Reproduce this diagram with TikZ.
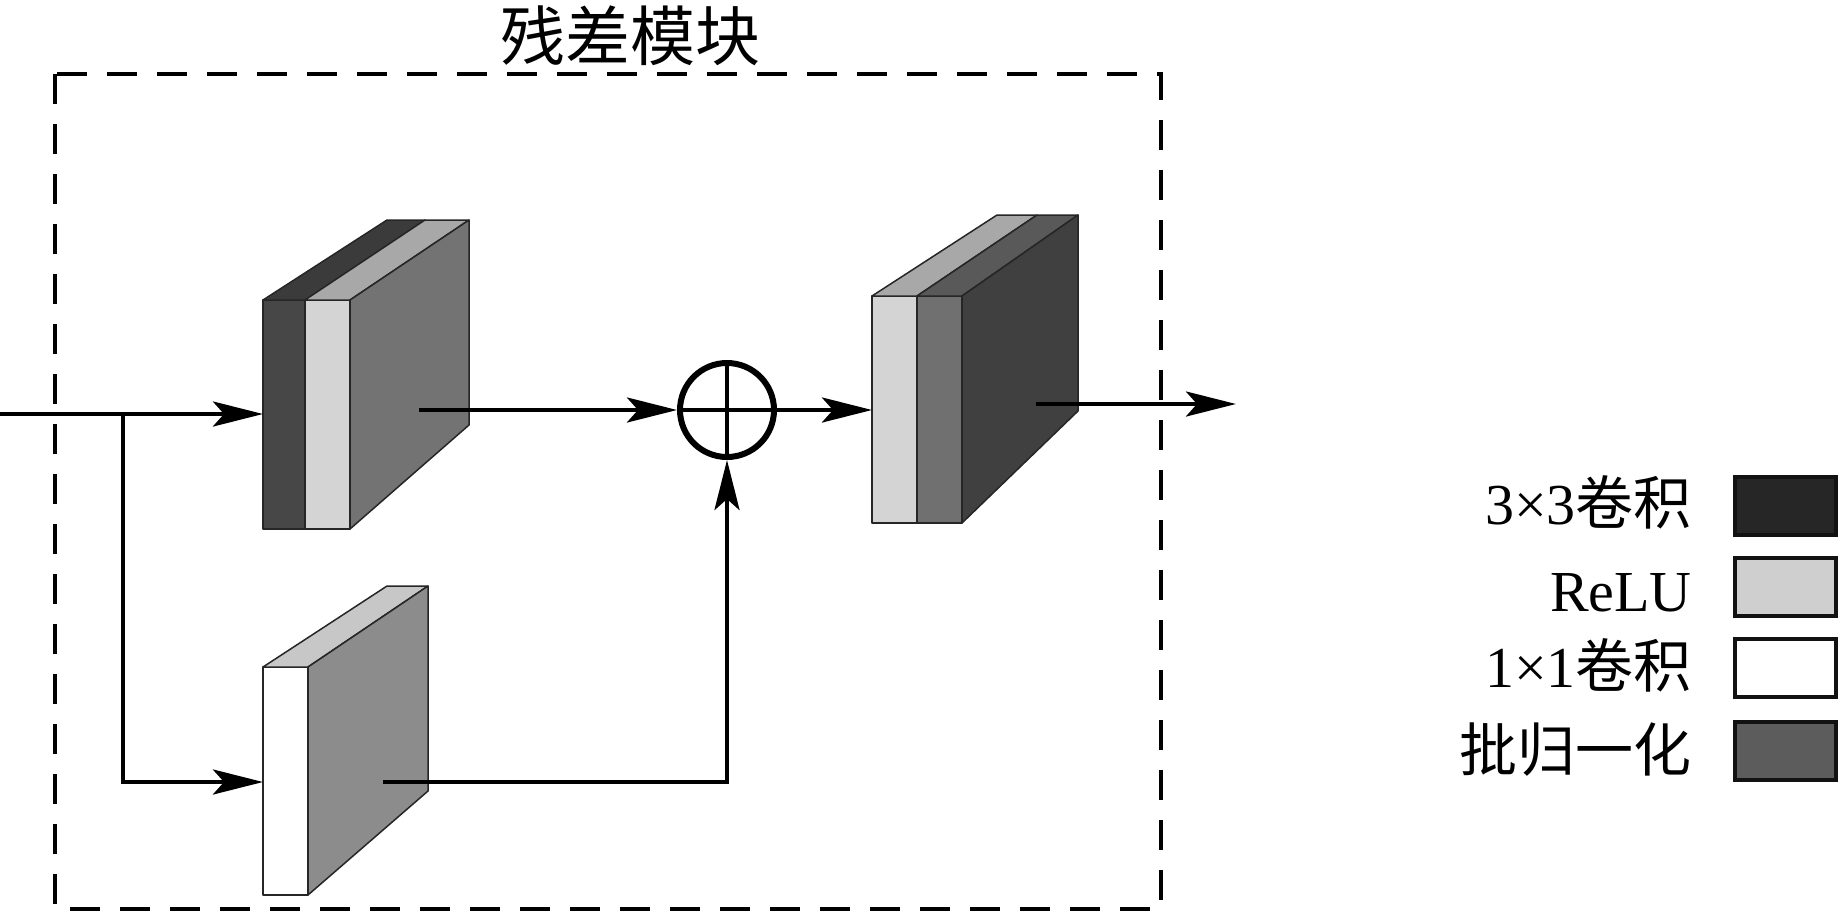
\documentclass[tikz,border=0pt]{standalone}
\usepackage{fontspec}
\setmainfont{Liberation Serif}
\newfontfamily\cjk{Noto Sans CJK SC}
\usetikzlibrary{arrows.meta}
\begin{document}
\begin{tikzpicture}[x=1pt,y=-1pt,
  conn/.style={line width=4.5pt,-{Stealth[length=50pt,width=25pt,inset=11pt]}},
  face/.style={draw=black!85,line width=1.5pt,line join=round},
  legbox/.style={draw=black!93,line width=4pt,minimum width=101pt,minimum height=58pt,inner sep=0pt},
  legtext/.style={anchor=base east,inner sep=0pt,font=\fontsize{58}{58}\selectfont},
]
\useasboundingbox (0,0) rectangle (1840,911);

% title and dashed frame
\node[inner sep=0pt,font=\cjk\fontsize{65}{65}\selectfont] (title) at (630,36) {残差模块};
\draw[line width=4pt,dash pattern=on 30pt off 20pt] (55,74) rectangle (1161,909);

% block 1 (3x3 conv + ReLU + BN)
\filldraw[face,fill=black!72] (263,300) -- (305,300) -- (305,529) -- (263,529) -- cycle;
\filldraw[face,fill=black!17] (305,300) -- (350,300) -- (350,529) -- (305,529) -- cycle;
\filldraw[face,fill=black!77] (263,300) -- (387,220) -- (425,220) -- (305,300) -- cycle;
\filldraw[face,fill=black!34] (305,300) -- (425,220) -- (469,220) -- (350,300) -- cycle;
\filldraw[face,fill=black!55] (350,300) -- (469,220) -- (469,425) -- (350,529) -- cycle;

% block 2 (1x1 conv + BN)
\filldraw[face,fill=white] (263,667) -- (308,667) -- (308,895) -- (263,895) -- cycle;
\filldraw[face,fill=black!22] (263,667) -- (387,586) -- (428,586) -- (308,667) -- cycle;
\filldraw[face,fill=black!45] (308,667) -- (428,586) -- (428,791) -- (308,895) -- cycle;

% block 3 (ReLU + BN + 3x3 conv)
\filldraw[face,fill=black!17] (872,296) -- (917,296) -- (917,523) -- (872,523) -- cycle;
\filldraw[face,fill=black!56] (917,296) -- (962,296) -- (962,523) -- (917,523) -- cycle;
\filldraw[face,fill=black!34] (872,296) -- (997,215) -- (1037,215) -- (917,296) -- cycle;
\filldraw[face,fill=black!65] (917,296) -- (1037,215) -- (1078,215) -- (962,296) -- cycle;
\filldraw[face,fill=black!75] (962,296) -- (1078,215) -- (1078,411) -- (962,523) -- cycle;

% sum node
\node[circle,draw,line width=6pt,minimum size=94pt,inner sep=0pt] (sum) at (727,410) {};
\draw[line width=3.5pt] (sum.north) -- (sum.south);
\draw[line width=3.5pt] (sum.west) -- (sum.east);

% connection points
\coordinate (inL) at (0,414);
\coordinate (br) at (123,414);
\coordinate (b1in) at (263,414);
\coordinate (b2in) at (263,782);
\coordinate (b1out) at (419,410);
\coordinate (b2out) at (383,782);
\coordinate (b3in) at (872,410);
\coordinate (b3out) at (1036,404);
\coordinate (outR) at (1236,404);

% connectors
\draw[conn] (inL) -- (b1in);
\draw[conn] (br) |- (b2in);
\draw[conn] (b1out) -- (sum.west);
\draw[conn] (b2out) -| (sum.south);
\draw[conn] (sum.east) -- (b3in);
\draw[conn] (b3out) -- (outR);

% legend
\node[legbox,fill=black!85] (k1) at (1785.5,506) {};
\node[legbox,fill=black!19] (k2) at (1785.5,587) {};
\node[legbox,fill=white] (k3) at (1785.5,668) {};
\node[legbox,fill=black!64] (k4) at (1785.5,751) {};
\node[legtext] (t1) at (1692,524) {3×3{\cjk 卷积}};
\node[legtext] (t2) at (1692,611) {ReLU};
\node[legtext] (t3) at (1692,687) {1×1{\cjk 卷积}};
\node[legtext] (t4) at (1692,771) {\cjk 批归一化};
\end{tikzpicture}
\end{document}
